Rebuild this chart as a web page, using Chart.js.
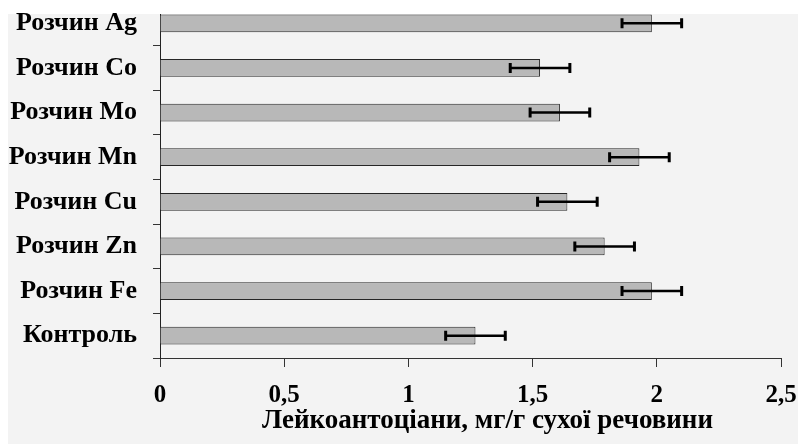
<!DOCTYPE html>
<html><head><meta charset="utf-8">
<script src="https://cdn.jsdelivr.net/npm/chart.js@4/dist/chart.umd.min.js"></script>
<style>html,body{margin:0;padding:0;background:#fff}#wrap{width:798px;height:444px;position:relative}</style>
</head><body><div id="wrap"><canvas id="c" width="798" height="444"></canvas></div>
<script>
const categories = ['Розчин Ag','Розчин Co','Розчин Mo','Розчин Mn','Розчин Cu','Розчин Zn','Розчин Fe','Контроль'];
const values = [1.98, 1.53, 1.61, 1.93, 1.64, 1.79, 1.98, 1.27];
const errors = [0.12, 0.12, 0.12, 0.12, 0.12, 0.12, 0.12, 0.12];
const xTickValues = [0, 0.5, 1, 1.5, 2, 2.5];
const xTickLabels = ['0', '0,5', '1', '1,5', '2', '2,5'];
const xAxisTitle = 'Лейкоантоціани, мг/г сухої речовини';

const SERIF = "'Liberation Serif', 'DejaVu Serif', serif";

const bgPlugin = {
  id: 'bg',
  beforeDraw(chart) {
    const ctx = chart.ctx;
    ctx.save();
    ctx.fillStyle = '#ffffff';
    ctx.fillRect(0, 0, chart.width, chart.height);
    ctx.fillStyle = '#f3f3f3';
    ctx.fillRect(8, 14, chart.width - 8, chart.height - 14);
    ctx.restore();
  },
  afterDraw(chart) {
    // hide the part of the axis above the grey panel (cropped in the original)
    const ctx = chart.ctx;
    const left = chart.chartArea.left;
    ctx.save();
    ctx.fillStyle = '#ffffff';
    ctx.fillRect(left - 10, 0, 20, 14);
    ctx.restore();
  }
};

const errPlugin = {
  id: 'errbars',
  afterDatasetsDraw(chart) {
    const ctx = chart.ctx;
    const xs = chart.scales.x;
    const meta = chart.getDatasetMeta(0);
    ctx.save();
    ctx.strokeStyle = '#000';
    meta.data.forEach((bar, i) => {
      const y = bar.y;
      const x1 = xs.getPixelForValue(values[i] - errors[i]);
      const x2 = xs.getPixelForValue(values[i] + errors[i]);
      ctx.lineWidth = 2.5;
      ctx.beginPath();
      ctx.moveTo(x1, y); ctx.lineTo(x2, y);
      ctx.stroke();
      ctx.lineWidth = 3;
      ctx.beginPath();
      ctx.moveTo(x1, y - 5); ctx.lineTo(x1, y + 5);
      ctx.moveTo(x2, y - 5); ctx.lineTo(x2, y + 5);
      ctx.stroke();
    });
    ctx.restore();
  }
};

const titleShiftPlugin = {
  id: 'titleShift',
  afterLayout(chart) {
    const sc = chart.scales.x;
    if (!sc._shifted) {
      const orig = Object.getPrototypeOf(sc).drawTitle;
      sc.drawTitle = function () {
        this.ctx.save();
        this.ctx.translate(17, 0);
        orig.call(this);
        this.ctx.restore();
      };
      sc._shifted = true;
    }
  }
};

function build() {
  new Chart(document.getElementById('c'), {
    type: 'bar',
    data: {
      labels: categories,
      datasets: [{
        data: values,
        backgroundColor: '#b8b8b8',
        borderColor: '#262626',
        borderWidth: 1,
        borderSkipped: 'start',
        barPercentage: 0.4,
        categoryPercentage: 1
      }]
    },
    options: {
      indexAxis: 'y',
      responsive: false,
      devicePixelRatio: 1,
      animation: false,
      layout: { padding: { top: 1, right: 17, bottom: 0, left: 0 } },
      plugins: { legend: { display: false }, tooltip: { enabled: false } },
      scales: {
        x: {
          type: 'linear',
          min: 0,
          max: 2.5,
          afterBuildTicks(scale) { scale.ticks = xTickValues.map(v => ({ value: v })); },
          afterFit(scale) { scale.height = 86; scale.paddingLeft = 0; scale.paddingRight = 0; },
          ticks: {
            callback(value) { const i = xTickValues.indexOf(value); return i >= 0 ? xTickLabels[i] : ''; },
            font: { family: SERIF, weight: 'bold', size: 25 },
            color: '#000',
            padding: 14,
            maxRotation: 0
          },
          grid: { drawOnChartArea: false, drawTicks: true, tickLength: 9, color: '#333', tickWidth: 1 },
          border: { display: true, color: '#333', width: 1 },
          title: {
            display: true,
            text: xAxisTitle,
            font: { family: SERIF, weight: 'bold', size: 27 },
            color: '#000',
            padding: { top: 0, bottom: 7 }
          }
        },
        y: {
          type: 'category',
          afterFit(scale) { scale.width = 160; scale.paddingTop = 0; scale.paddingBottom = 0; },
          ticks: {
            font: { family: SERIF, weight: 'bold', size: 26 },
            color: '#000',
            padding: 16
          },
          grid: { offset: true, drawOnChartArea: false, drawTicks: true, tickLength: 7, color: '#333', tickWidth: 1 },
          border: { display: true, color: '#222', width: 1 }
        }
      }
    },
    plugins: [bgPlugin, errPlugin, titleShiftPlugin]
  });
}

const fontLoads = [
  "bold 25px 'Liberation Serif'",
  "bold 26px 'Liberation Serif'",
  "bold 27px 'Liberation Serif'"
].map(f => document.fonts.load(f, 'Розчин Ag 0,5').catch(() => null));
Promise.all(fontLoads).then(build, build);
</script>
</body></html>
